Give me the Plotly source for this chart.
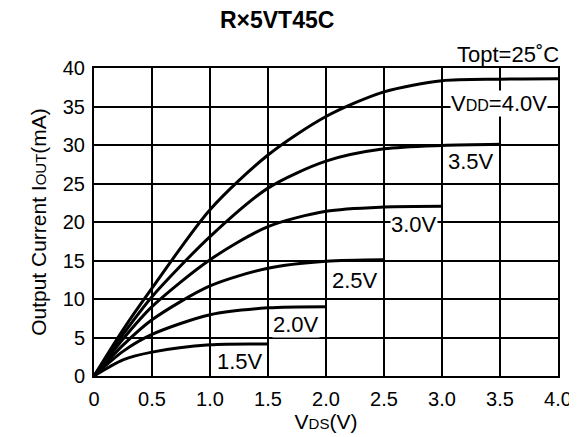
import plotly.graph_objects as go

# Data
x_40 = [0, 0.25, 0.5, 1.0, 1.5, 2.0, 2.5, 3.0, 3.5, 4.0]
y_40 = [0, 6.0, 11.4, 21.6, 28.7, 33.7, 36.9, 38.35, 38.55, 38.6]
x_35 = [0, 0.25, 0.5, 1.0, 1.5, 2.0, 2.5, 3.0, 3.5]
y_35 = [0, 5.4, 10.3, 18.1, 24.4, 27.9, 29.5, 29.95, 30.1]
x_30 = [0, 0.25, 0.5, 1.0, 1.5, 2.0, 2.5, 3.0]
y_30 = [0, 4.8, 9.0, 15.1, 19.4, 21.4, 21.95, 22.05]
x_25 = [0, 0.25, 0.5, 1.0, 1.5, 2.0, 2.5]
y_25 = [0, 4.0, 7.3, 11.7, 14.0, 14.9, 15.1]
x_20 = [0, 0.25, 0.5, 1.0, 1.5, 2.0]
y_20 = [0, 3.2, 5.4, 7.96, 8.85, 9.0]
x_15 = [0, 0.25, 0.5, 1.0, 1.5]
y_15 = [0, 2.1, 3.1, 4.05, 4.15]

curve_labels = ["V<span style='font-size:16px'>DD</span>=4.0V", "3.5V", "3.0V", "2.5V", "2.0V", "1.5V"]
label_x = [3.49, 3.25, 2.76, 2.25, 1.74, 1.26]
label_y = [35.4, 27.9, 19.65, 12.4, 6.65, 1.9]

x_ticks = [0, 0.5, 1.0, 1.5, 2.0, 2.5, 3.0, 3.5, 4.0]
x_ticktext = ["0", "0.5", "1.0", "1.5", "2.0", "2.5", "3.0", "3.5", "4.0"]
y_ticks = [0, 5, 10, 15, 20, 25, 30, 35, 40]

FONT = "Liberation Sans, Arial, sans-serif"
FS = 20
LFS = 22

fig = go.Figure()
for xs, ys in [(x_40, y_40), (x_35, y_35), (x_30, y_30), (x_25, y_25), (x_20, y_20), (x_15, y_15)]:
    fig.add_trace(go.Scatter(x=xs, y=ys, mode="lines",
                             line=dict(color="black", width=3, shape="spline", smoothing=0.8),
                             showlegend=False, hoverinfo="skip"))

for t, lx, ly in zip(curve_labels, label_x, label_y):
    fig.add_annotation(x=lx, y=ly, text=t, showarrow=False, bgcolor="white",
                       font=dict(family=FONT, size=LFS, color="black"), borderpad=0)

fig.add_annotation(xref="paper", yref="paper", x=1.0, y=1.0, xanchor="right", yanchor="bottom",
                   text="Topt=25˚C", showarrow=False, yshift=-1, xshift=3,
                   font=dict(family=FONT, size=LFS, color="black"))

fig.update_layout(
    width=569, height=429,
    margin=dict(l=86, r=19, t=60, b=61, autoexpand=False),
    paper_bgcolor="white", plot_bgcolor="white",
    font=dict(family=FONT, size=FS, color="black"),
    title=dict(text="<b>R×5VT45C</b>", x=0.473, xanchor="center", y=0.972, yanchor="middle",
               font=dict(family=FONT, size=23, color="black")),
    xaxis=dict(range=[0, 4], tickvals=x_ticks, ticktext=x_ticktext, showgrid=True,
               gridcolor="black", gridwidth=1.5, zeroline=False, showline=True, linecolor="black",
               linewidth=2, mirror=True, ticks="", ticklen=0, automargin=False,
               ticklabelstandoff=4,
               tickfont=dict(family=FONT, size=FS),
               title=dict(text="V<span style='font-size:15px'>DS</span>(V)", standoff=0,
                          font=dict(family=FONT, size=21))),
    yaxis=dict(range=[0, 40], tickvals=y_ticks, showgrid=True, gridcolor="black", gridwidth=1.5,
               zeroline=False, showline=True, linecolor="black", linewidth=2, mirror=True,
               ticks="", ticklen=0, automargin=False, ticklabelstandoff=3,
               tickfont=dict(family=FONT, size=FS),
               title=dict(text="Output Current I<span style='font-size:15px'>OUT</span>(mA)",
                          standoff=10, font=dict(family=FONT, size=21))),
)

fig.write_html("out.html")
